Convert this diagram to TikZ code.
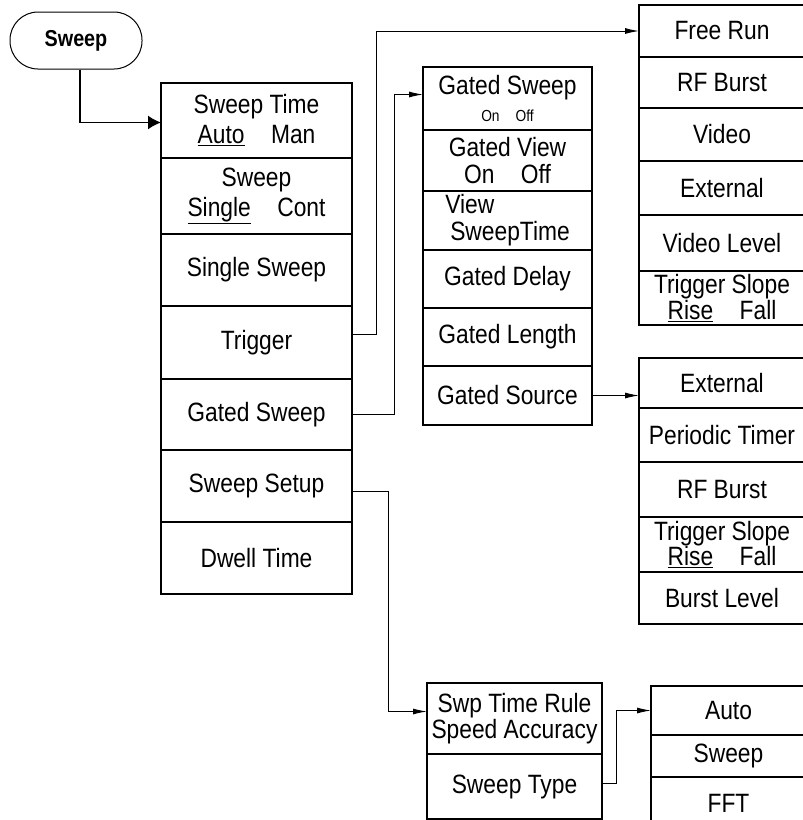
\documentclass[tikz,border=0pt]{standalone}
\usepackage{fontspec}
\setmainfont{Liberation Sans}[FakeStretch=0.86]
\usetikzlibrary{arrows.meta,positioning}

\begin{document}
\begin{tikzpicture}[
    x=1pt, y=-1pt,
    node distance=0pt,
    key/.style={draw, line width=1.6pt, outer sep=0pt, inner sep=0pt, align=center, font=\fontsize{26.5}{27}\selectfont},
    lcol/.style={key, minimum width=191pt},
    gcol/.style={key, minimum width=169pt},
    rcol/.style={key, minimum width=166pt},
    scol/.style={key, minimum width=175pt},
    tcol/.style={key, minimum width=155pt},
    link/.style={-{Latex[length=14pt,width=6pt]}, line width=1pt}
]
\useasboundingbox (0,0) rectangle (803,820);

% hard key
\node[draw, rounded corners=28pt, line width=1pt, minimum width=132pt, minimum height=57pt,
      font=\fontsize{23}{23}\selectfont\bfseries] (sweep) at (76,40.5) {Sweep};

% sweep menu
\node[lcol, minimum height=75pt, anchor=north west, font=\fontsize{26.5}{30}\selectfont] (stime) at (161,83) {Sweep Time\\\underline{Auto}\quad Man};
\node[lcol, minimum height=76pt, below=of stime, font=\fontsize{26.5}{30}\selectfont] (smode) {Sweep\\\underline{Single}\quad Cont};
\node[lcol, minimum height=72pt, below=of smode] (single) {Single Sweep};
\node[lcol, minimum height=73pt, below=of single] (trig) {Trigger};
\node[lcol, minimum height=71pt, below=of trig] (gate) {Gated Sweep};
\node[lcol, minimum height=72pt, below=of gate] (setup) {Sweep Setup};
\node[lcol, minimum height=72pt, below=of setup] (dwell) {Dwell Time};

% gated sweep menu
\node[gcol, minimum height=63pt, anchor=north west] (gsweep) at (423,67) {Gated Sweep\\{\fontsize{16}{16}\selectfont On\quad Off}};
\node[gcol, minimum height=61pt, below=of gsweep] (gview) {Gated View\\On\quad Off};
\node[gcol, minimum height=59pt, below=of gview, align=left] (vtime) {View\\\hspace*{5pt}SweepTime};
\node[gcol, minimum height=58pt, below=of vtime] (gdelay) {Gated Delay};
\node[gcol, minimum height=58pt, below=of gdelay] (glength) {Gated Length};
\node[gcol, minimum height=59pt, below=of glength] (gsource) {Gated Source};

% trigger menu
\node[rcol, minimum height=52pt, anchor=north west] (free) at (639,5) {Free Run};
\node[rcol, minimum height=51pt, below=of free] (rfb) {RF Burst};
\node[rcol, minimum height=53pt, below=of rfb] (video) {Video};
\node[rcol, minimum height=54pt, below=of video] (ext) {External};
\node[rcol, minimum height=56pt, below=of ext] (vlevel) {Video Level};
\node[rcol, minimum height=54pt, below=of vlevel, font=\fontsize{26.5}{24}\selectfont] (tslope) {Trigger Slope\\\underline{Rise}\quad Fall};

% gated source menu
\node[rcol, minimum height=50pt, anchor=north west] (gext) at (639,358) {External};
\node[rcol, minimum height=54pt, below=of gext] (ptimer) {Periodic Timer};
\node[rcol, minimum height=55pt, below=of ptimer] (grfb) {RF Burst};
\node[rcol, minimum height=55pt, below=of grfb, font=\fontsize{26.5}{24}\selectfont] (gslope) {Trigger Slope\\\underline{Rise}\quad Fall};
\node[rcol, minimum height=52pt, below=of gslope] (blevel) {Burst Level};

% sweep setup menu
\node[scol, minimum height=71pt, anchor=north west, font=\fontsize{26.5}{23}\selectfont] (swprule) at (427,683) {Swp Time Rule\\Speed Accuracy};
\node[scol, minimum height=65pt, below=of swprule] (stype) {Sweep Type};

% sweep type menu
\node[tcol, minimum height=49pt, anchor=north west] (auto) at (651,686) {Auto};
\node[tcol, minimum height=42pt, below=of auto] (tsweep) {Sweep};
\node[tcol, minimum height=52pt, below=of tsweep] (fft) {FFT};

% connectors
\draw[line width=1.6pt, -{Latex[length=13pt,width=14pt]}] ([xshift=4pt]sweep.south) |- ([yshift=-2pt]stime.west);
\draw[link] ([yshift=8pt]trig.east) -- ++(24,0) |- (free.west);
\draw[link] (gate.east) -- ++(42,0) |- ([yshift=4pt]gsweep.west);
\draw[link] (gsource.east) -- (gsource.east -| gext.west);
\draw[link] ([yshift=-5pt]setup.east) -- ++(36,0) |- ([yshift=7pt]swprule.west);
\draw[link] ([yshift=3pt]stype.east) -- ++(14,0) |- (auto.west);
\end{tikzpicture}
\end{document}
